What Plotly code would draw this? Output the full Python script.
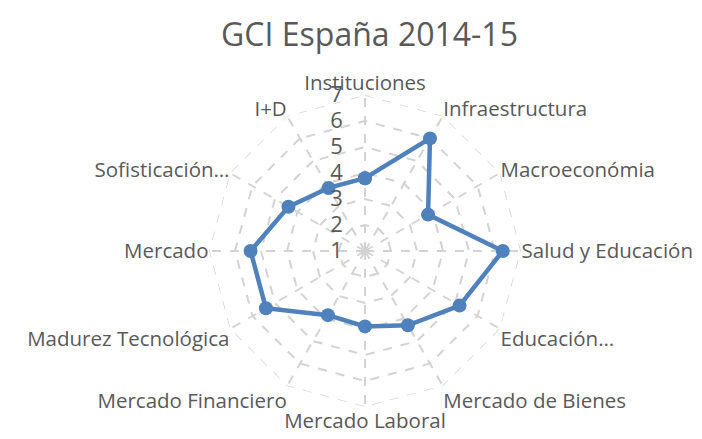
import plotly.graph_objects as go

categories = ["Instituciones", "Infraestructura", "Macroeconómia", "Salud y Educación",
              "Educación…", "Mercado de Bienes", "Mercado Laboral", "Mercado Financiero",
              "Madurez Tecnológica", "Mercado", "Sofisticación…", "I+D"]
values = [3.8, 6.0, 3.8, 6.3, 5.2, 4.3, 3.9, 3.85, 5.4, 5.4, 4.4, 3.8]
radial_ticks = [1, 2, 3, 4, 5, 6, 7]
outer = [radial_ticks[-1]] * len(categories)

W, H = 702, 439
cx, cy, rad = 357, 243, 156
grid = "#D3D3D3"

fig = go.Figure()
# outer dashed ring, like the other grid rings
fig.add_trace(go.Scatterpolar(
    r=outer + outer[:1],
    theta=categories + categories[:1],
    mode="lines",
    line=dict(color=grid, width=1.5, dash="dash"),
    hoverinfo="skip",
    showlegend=False,
))
fig.add_trace(go.Scatterpolar(
    r=values + values[:1],
    theta=categories + categories[:1],
    mode="lines+markers",
    line=dict(color="#4F81BD", width=4.5),
    marker=dict(color="#4F81BD", size=14),
    showlegend=False,
))

fig.update_layout(
    width=W, height=H,
    margin=dict(l=0, r=0, t=0, b=0),
    paper_bgcolor="white",
    font=dict(family="Open Sans", size=20, color="#595959"),
    title=dict(text="GCI España 2014-15", x=0.515, xanchor="center", y=0.94, yanchor="middle",
               font=dict(size=32, color="#595959")),
    polar=dict(
        domain=dict(x=[(cx - rad) / W, (cx + rad) / W], y=[1 - (cy + rad) / H, 1 - (cy - rad) / H]),
        bgcolor="white",
        gridshape="linear",
        radialaxis=dict(range=[1, 7], tickvals=radial_ticks, angle=90, tickangle=90,
                        side="counterclockwise", showline=False, ticks="outside", ticklen=14,
                        tickcolor="rgba(0,0,0,0)",
                        gridcolor=grid, griddash="dash", gridwidth=1.5,
                        tickfont=dict(size=22, color="#595959")),
        angularaxis=dict(direction="clockwise", rotation=90, showline=False, ticks="",
                         gridcolor=grid, griddash="dash", gridwidth=1.5,
                         tickfont=dict(size=20.5, color="#595959")),
    ),
)

fig.write_html("out.html")
